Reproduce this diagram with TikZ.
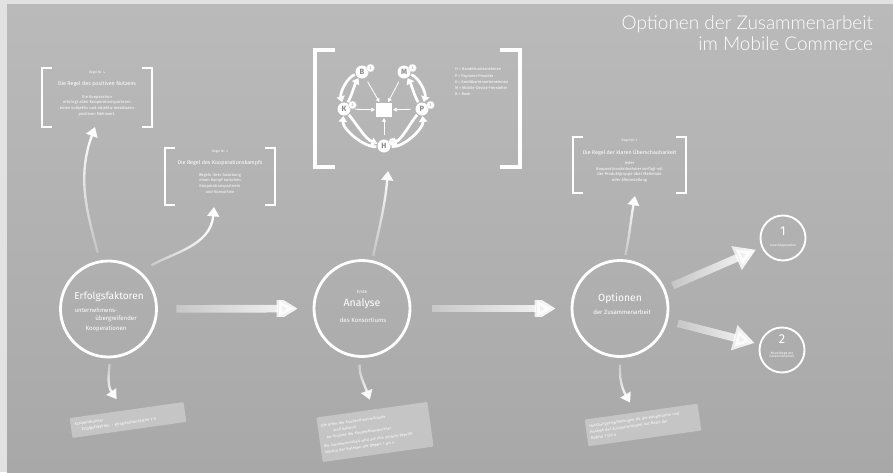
\documentclass[tikz,border=0pt]{standalone}
\usepackage{fontspec}
\setmainfont{Fira Sans}
\newfontfamily\headfont{Lato Light}
\usetikzlibrary{arrows.meta,fadings,calc}

\definecolor{framegray}{RGB}{226,226,226}
\definecolor{bgtop}{RGB}{186,186,186}
\definecolor{bgbottom}{RGB}{168,168,168}
\definecolor{lettergray}{RGB}{140,140,140}

% arrows light up towards their heads
\tikzfading[name=fadeE, left color=transparent!80, right color=transparent!0]
\tikzfading[name=fadeN, bottom color=transparent!80, top color=transparent!0]
\tikzfading[name=fadeS, top color=transparent!80, bottom color=transparent!0]

% square brackets on the left and right side of a node
\newcommand{\drawbrackets}[3][]{%
  \draw[bracketline,#1] ($(#2.north west)+(#3,0)$) -- (#2.north west) -- (#2.south west) -- ($(#2.south west)+(#3,0)$);
  \draw[bracketline,#1] ($(#2.north east)+(-#3,0)$) -- (#2.north east) -- (#2.south east) -- ($(#2.south east)+(-#3,0)$);}

\begin{document}
\begin{tikzpicture}[x=0.03cm, y=-0.03cm,
  every node/.style={inner sep=0pt, outer sep=0pt, text=white},
  ring/.style={circle, draw=white, line width=2.4pt, minimum size=2.88cm},
  minor ring/.style={circle, draw=white, line width=1.6pt, minimum size=1.35cm},
  bracketline/.style={draw=white, line width=2.3pt},
  bigarrow/.style={draw=white, line width=6.5pt, -{Triangle[length=18pt,width=21pt]}, path fading=fadeE},
  curvearrow/.style={draw=white, line width=2pt, -{Triangle[length=8pt,width=10pt]}},
  notebox/.style={rectangle, fill=white, fill opacity=0.32, text opacity=1, rounded corners=0.8pt, rotate=8, align=left},
  member/.style={circle, fill=white, minimum size=0.39cm, text=lettergray, font=\fontsize{6.5}{7}\selectfont\bfseries},
  memberno/.style={circle, fill=white, draw=lettergray!40, line width=0.3pt, minimum size=0.24cm, text=lettergray, font=\fontsize{3.2}{3.5}\selectfont},
  hub/.style={rectangle, fill=white, minimum width=0.48cm, minimum height=0.42cm},
  linkarrow/.style={draw=white, line width=0.7pt, -{Triangle[length=3pt,width=3.5pt]}, shorten <=4pt, shorten >=1pt},
  flowarrow/.style={draw=white, line width=2.3pt, -{Triangle[length=5pt,width=7pt]}, shorten <=1pt, shorten >=0.5pt},
  tiny/.style={font=\fontsize{2.8}{3}\selectfont},
  rulename/.style={font=\fontsize{4.6}{5}\selectfont},
  rulebody/.style={font=\fontsize{3.5}{4.85}\selectfont, align=center},
  small/.style={font=\fontsize{5.2}{6}\selectfont}]

% backdrop
\fill[framegray] (0,0) rectangle (893,472);
\shade[top color=bgtop, bottom color=bgbottom] (7,4) rectangle (893,472);
\useasboundingbox (0,0) rectangle (893,472);

% heading
\node[anchor=north east, align=right, font=\headfont\fontsize{16.2}{17.5}\selectfont] (title) at (873,16)
  {Optionen der Zusammenarbeit\\im Mobile Commerce};

% main stations
\node[ring] (erf) at (108.5,309) {};
\node[ring] (ana) at (362,308.5) {};
\node[ring] (opt) at (620,308.5) {};
\node[minor ring] (one) at (783,238) {};
\node[minor ring] (two) at (782,350) {};

\node[font=\fontsize{8.6}{10}\selectfont] (erf-title) at (109,297) {Erfolgsfaktoren};
\node[small] (erf-l1) at (96,310) {unternehmens-};
\node[small] (erf-l2) at (116,319) {übergreifender};
\node[small] (erf-l3) at (106,329) {Kooperationen};

\node[font=\fontsize{3.8}{4}\selectfont] (ana-pre) at (362,292) {Erste};
\node[font=\fontsize{9}{10}\selectfont] (ana-title) at (362,304) {Analyse};
\node[small] (ana-sub) at (363,320) {des Konsortiums};

\node[font=\fontsize{8.8}{10}\selectfont] (opt-title) at (620,299) {Optionen};
\node[small] (opt-sub) at (622,312) {der Zusammenarbeit};

\node[font=\fontsize{11}{12}\selectfont] (one-num) at (783,231) {1};
\node[tiny] (one-txt) at (783,246) {Lose Kooperation};
\node[font=\fontsize{11}{12}\selectfont] (two-num) at (782,339) {2};
\node[tiny, align=center] (two-txt) at (782,355) {Neue Wege der\\Zusammenarbeit};

% rule boxes
\node[rectangle, minimum width=3.3cm, minimum height=1.77cm] (r4) at (97,97.5) {};
\drawbrackets{r4}{10}
\node[tiny] (r4-no) at (97,73) {Regel Nr. 4};
\node[rulename] (r4-name) at (97,84) {Die Regel des positiven Nutzens};
\node[rulebody] (r4-body) at (97,105.5)
  {Die Kooperation\\erbringt allen Kooperationspartnern\\einen subjektiv und objektiv messbaren\\positiven Mehrwert.};

\node[rectangle, minimum width=3.3cm, minimum height=1.71cm] (r2) at (220,176.5) {};
\drawbrackets{r2}{10}
\node[tiny] (r2-no) at (220,152) {Regel Nr. 2};
\node[rulename] (r2-name) at (220,163) {Die Regel des Kooperationskampfs};
\node[rulebody] (r2-body) at (220,183)
  {Regeln ihrer Ausübung\\einen Kampf zwischen\\Kooperationspartnern\\und Konsortien};

\node[rectangle, minimum width=3.39cm, minimum height=1.68cm] (r1) at (629.5,165) {};
\drawbrackets{r1}{10}
\node[tiny] (r1-no) at (629.5,141) {Regel Nr. 1};
\node[rulename] (r1-name) at (629.5,153) {Die Regel der klaren Überschaubarkeit};
\node[rulebody] (r1-body) at (629.5,172)
  {Jeder\\Kooperationsteilnehmer verfügt mit\\der Produktgruppe über Merkmale\\oder Alleinstellung};

% consortium network
\node[rectangle, minimum width=6.15cm, minimum height=3.51cm] (net) at (417.5,108.5) {};
\drawbrackets[line width=4pt]{net}{20}

\node[hub] (sq) at (384,110) {};
\node[member] (B) at (362,72) {B};
\node[member] (M) at (404,72) {M};
\node[member] (K) at (344,109) {K};
\node[member] (P) at (422,109) {P};
\node[member] (H) at (384,146) {H};
\node[memberno] (B-no) at (370.5,68) {2};
\node[memberno] (M-no) at (412.5,68) {3};
\node[memberno] (K-no) at (352.5,105) {2};
\node[memberno] (P-no) at (430.5,105) {2};
\node[memberno] (H-no) at (392.5,142) {5};

\foreach \m in {B,M,K,P,H}
  \draw[linkarrow] (\m) -- (sq);

\draw[flowarrow] (B) to[out=200, in=105, looseness=0.8] (K);
\draw[flowarrow] (K) to[out=60, in=-120, looseness=0.8] (B);
\draw[flowarrow] (M) to[out=-20, in=75, looseness=0.8] (P);
\draw[flowarrow] (P) to[out=120, in=-60, looseness=0.8] (M);
\draw[flowarrow] (H) to[out=185, in=-95, looseness=0.75] (K);
\draw[flowarrow] (K) to[out=-50, in=160, looseness=0.8] (H);
\draw[flowarrow] (H) to[out=-5, in=-85, looseness=0.75] (P);
\draw[flowarrow] (P) to[out=-130, in=20, looseness=0.8] (H);

\node[anchor=north west, align=left, font=\fontsize{3.4}{5.2}\selectfont] (legend) at (455,68)
  {H = Handelsunternehmen\\P = Payment-Provider\\K = Kreditkartenunternehmen\\M = Mobile-Device-Hersteller\\B = Bank};

% notes below the stations
\node[notebox, minimum width=3.45cm, minimum height=0.6cm, text width=3.2cm, font=\fontsize{3.5}{5.2}\selectfont] (k1) at (128,420)
  {Kooperationen:\\\hspace*{1.5em}Erfolgsfaktoren $\cdot$ Kooperationsarten 1--2};
\node[notebox, minimum width=3.36cm, minimum height=1.35cm, text width=3.15cm, font=\fontsize{3.3}{5.2}\selectfont] (k2) at (375,432)
  {Die Arten der Kooperationsverbünde\\\hspace*{3em}sind bekannt\\\hspace*{1em}zur Analyse der Kooperationspartner\\[2pt]Die Zusammenarbeit wird auf ihre Vorteile geprüft\\anhand der Kriterien der Regeln 1 bis 4.};
\node[notebox, minimum width=3.42cm, minimum height=0.81cm, text width=3.2cm, font=\fontsize{3.4}{5.2}\selectfont] (k3) at (643,425)
  {Handlungsempfehlungen für die Kooperation und\\Analyse der Zusammenarbeit auf Basis der\\Regeln 1 bis 4};

% main flow
\draw[bigarrow, shorten <=17pt, shorten >=14pt] (erf) -- (ana);
\draw[bigarrow, shorten <=19pt, shorten >=14pt] (ana) -- (opt);
\draw[bigarrow, shorten <=8pt, shorten >=6pt] (opt) -- (one);
\draw[bigarrow, shorten <=10pt, shorten >=5pt] (opt) -- (two);

% links to the rules
\draw[curvearrow, path fading=fadeN, shorten <=8pt] (erf.100) to[out=105, in=-110] ($(r4.south)+(-2,0)$);
\draw[curvearrow, path fading=fadeE, shorten <=12pt] (erf.50) to[out=30, in=-95] ($(r2.south)+(-6,2)$);
\draw[curvearrow, path fading=fadeN, shorten <=5pt] (ana.78) to[out=78, in=-95] ($(net.south)+(-29.5,4)$);
\draw[curvearrow, path fading=fadeN, shorten <=5pt] (opt.85) to[out=78, in=-100] ($(r1.south)+(5.5,3)$);

% links to the notes
\draw[curvearrow, path fading=fadeS, shorten <=6pt] (erf.-88) to[out=-95, in=125] ($(k1.north)+(-10,-11)$);
\draw[curvearrow, path fading=fadeS, shorten <=7pt] (ana.-92) to[out=-95, in=110] ($(k2.north)+(-2,-10)$);
\draw[curvearrow, path fading=fadeS, shorten <=7pt] (opt.-89) to[out=-95, in=120] ($(k3.north)+(-11,-9)$);

\end{tikzpicture}
\end{document}
